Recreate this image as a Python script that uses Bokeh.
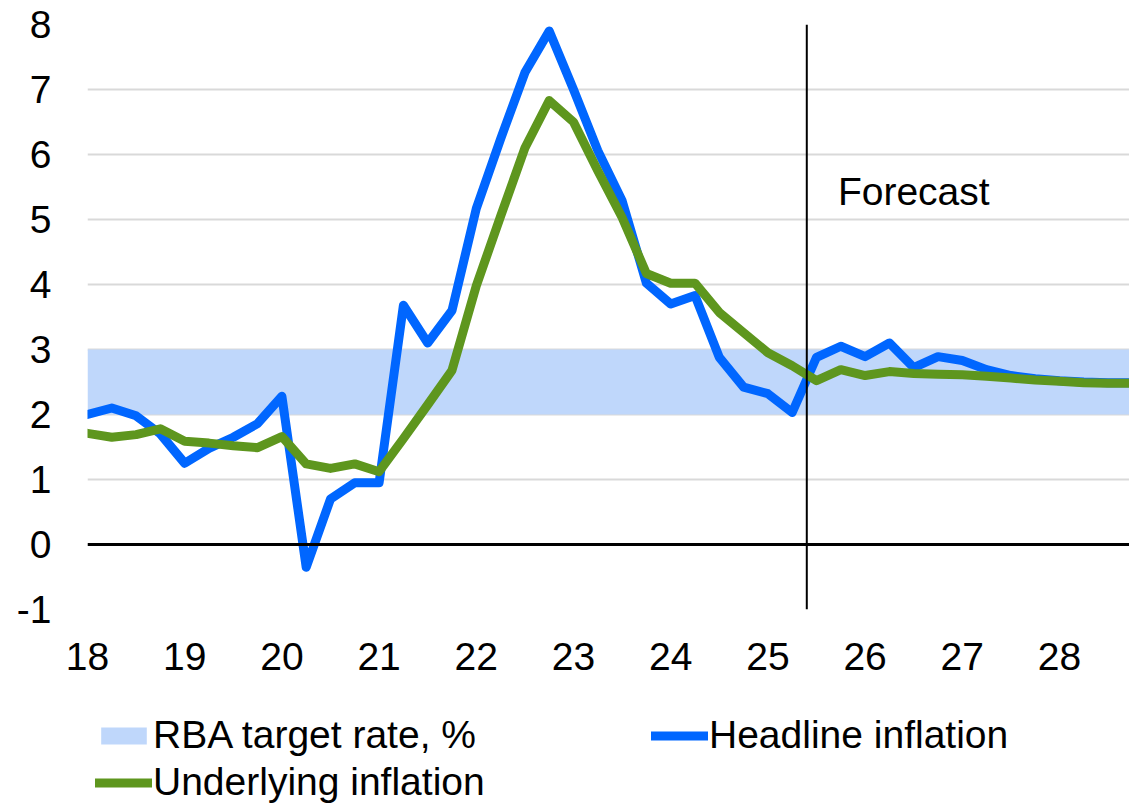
from bokeh.plotting import figure
from bokeh.layouts import column
from bokeh.models import Span, Label, Legend, LegendItem, FixedTicker, Range1d, PrintfTickFormatter
from bokeh.embed import file_html
from bokeh.resources import INLINE

# ---- data ----
quarters = [18 + 0.25 * i for i in range(44)]  # 2018Q1 .. 2028Q4 as decimal years (yy)
headline = [2.0, 2.1, 1.98, 1.7, 1.25, 1.48, 1.65, 1.86, 2.28, -0.35, 0.7, 0.95,
            0.95, 3.68, 3.1, 3.6, 5.17, 6.24, 7.26, 7.9, 7.0, 6.06, 5.29, 4.02,
            3.7, 3.83, 2.88, 2.42, 2.32, 2.03, 2.88, 3.05, 2.89, 3.1, 2.72, 2.89,
            2.83, 2.69, 2.6, 2.55, 2.52, 2.5, 2.49, 2.49]
underlying = [1.71, 1.65, 1.69, 1.78, 1.59, 1.56, 1.52, 1.49, 1.66, 1.24, 1.17, 1.24,
              1.12, 1.63, 2.15, 2.68, 3.98, 5.05, 6.1, 6.83, 6.5, 5.75, 5.03, 4.17,
              4.02, 4.02, 3.57, 3.26, 2.95, 2.75, 2.52, 2.69, 2.6, 2.66, 2.63, 2.62,
              2.61, 2.59, 2.56, 2.53, 2.51, 2.49, 2.48, 2.48]
target_low = 2.0
target_high = 3.0
forecast_start = 25.4
x_ticks = [18, 19, 20, 21, 22, 23, 24, 25, 26, 27, 28]
y_ticks = [-1, 0, 1, 2, 3, 4, 5, 6, 7, 8]
labels = ["RBA target rate, %", "Headline inflation", "Underlying inflation"]

BLUE = "#0066FF"
GREEN = "#5E961E"
BAND = "#BFD7FB"
FONT = "Liberation Sans"
FS = "39px"
LW = 9

p = figure(width=1129, height=690, output_backend="svg", toolbar_location=None,
           x_range=Range1d(18, 28.72), y_range=Range1d(-1, 8),
           min_border_left=87, min_border_right=0, min_border_top=24,
           min_border_bottom=81)
p.outline_line_color = None
p.background_fill_color = "white"

band = p.varea(x=[quarters[0], quarters[-1]], y1=[target_low, target_low],
               y2=[target_high, target_high], fill_color=BAND, fill_alpha=1.0)

p.add_layout(Span(location=0, dimension="width", line_color="black", line_width=3))
p.add_layout(Span(location=forecast_start, dimension="height", line_color="black", line_width=2))

hl = p.line(quarters, headline, line_color=BLUE, line_width=LW, line_join="round", line_cap="round")
ul = p.line(quarters, underlying, line_color=GREEN, line_width=LW, line_join="round", line_cap="round")

p.add_layout(Label(x=25.72, y=5.43, text="Forecast", text_font=FONT, text_font_size=FS,
                   text_color="black", text_baseline="middle"))

# axes
for ax in (p.xaxis[0], p.yaxis[0]):
    ax.axis_line_color = None
    ax.major_tick_line_color = None
    ax.minor_tick_line_color = None
    ax.major_label_text_font = FONT
    ax.major_label_text_font_size = FS
    ax.major_label_text_color = "black"
    ax.formatter = PrintfTickFormatter(format="%d")
p.xaxis[0].ticker = FixedTicker(ticks=x_ticks)
p.yaxis[0].ticker = FixedTicker(ticks=y_ticks)
p.xaxis[0].major_label_standoff = 27
p.yaxis[0].major_label_standoff = 30

p.xgrid.grid_line_color = None
p.ygrid.grid_line_color = "#D9D9D9"
p.ygrid.grid_line_width = 2
p.ygrid.ticker = FixedTicker(ticks=y_ticks)

# ---- legend strip below the chart (series drawn outside its visible range, only swatches show) ----
lg = figure(width=1129, height=117, output_backend="svg", toolbar_location=None,
            x_range=Range1d(0, 1), y_range=Range1d(0, 1),
            x_axis_location=None, y_axis_location=None, min_border=0)
lg.outline_line_color = None
lg.xgrid.visible = False
lg.ygrid.visible = False
r_band = lg.varea(x=[quarters[0], quarters[-1]], y1=[target_low, target_low],
                  y2=[target_high, target_high], fill_color=BAND, fill_alpha=1.0)
r_hl = lg.line(quarters, headline, line_color=BLUE, line_width=LW, line_cap="round")
r_ul = lg.line(quarters, underlying, line_color=GREEN, line_width=LW, line_cap="round")

legend = Legend(items=[
    LegendItem(label=labels[0], renderers=[r_band]),
    LegendItem(label=labels[1], renderers=[r_hl]),
    LegendItem(label=labels[2], renderers=[r_ul]),
], location=(8, 3), orientation="horizontal", ncols=2,
    padding=0, margin=0, spacing=3, border_line_color=None, background_fill_alpha=0,
    glyph_width=57, glyph_height=21, label_standoff=1, label_width=495, label_height=42,
    label_text_font=FONT, label_text_font_size=FS, label_text_color="black")
lg.add_layout(legend)

open("out.html", "w").write(file_html(column(p, lg, spacing=0), INLINE))
